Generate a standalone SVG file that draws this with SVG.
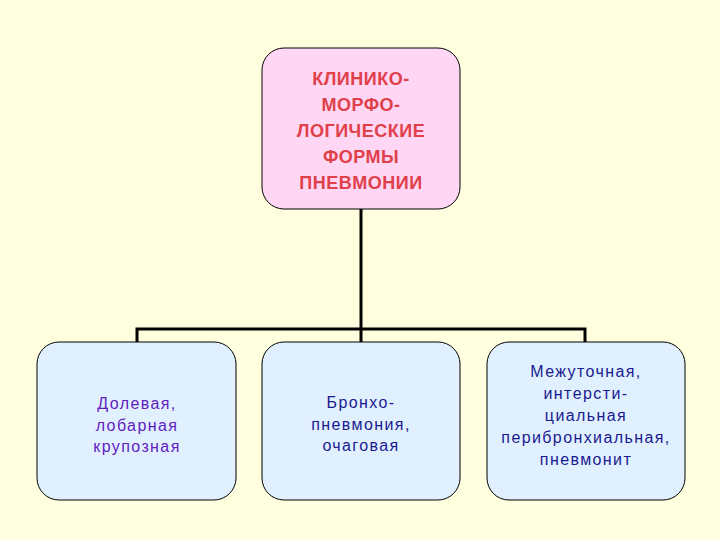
<svg xmlns="http://www.w3.org/2000/svg" width="720" height="540" viewBox="0 0 720 540">
<style>
.box{stroke:#000;stroke-width:1}
.t{font-family:"Liberation Sans",Arial,sans-serif;font-size:16px;letter-spacing:1.4px;text-anchor:middle}
.top{font-weight:bold;fill:#e0404a;font-size:18px;letter-spacing:0.5px}
.c{fill:none;stroke:#000;stroke-width:3}
</style>
<rect width="720" height="540" fill="#ffffe0"/>
<g id="connectors">
<path class="c" d="M361 209V329M137 342V329H585V342M361 329V342"/>
</g>
<g id="root">
<rect class="box" x="262" y="48" width="198" height="161" rx="22" fill="#ffd6f4"/>
<text class="t top" x="361" y="85">КЛИНИКО-</text>
<text class="t top" x="361" y="111">МОРФО-</text>
<text class="t top" x="361" y="137">ЛОГИЧЕСКИЕ</text>
<text class="t top" x="361" y="163">ФОРМЫ</text>
<text class="t top" x="361" y="189">ПНЕВМОНИИ</text>
</g>
<g id="n1">
<rect class="box" x="37" y="342" width="199" height="158" rx="22" fill="#e0f0ff"/>
<text class="t" fill="#6020c0" x="137" y="409">Долевая,</text>
<text class="t" fill="#6020c0" x="137" y="431">лобарная</text>
<text class="t" fill="#6020c0" x="137" y="452">крупозная</text>
</g>
<g id="n2">
<rect class="box" x="262" y="342" width="198" height="158" rx="22" fill="#e0f0ff"/>
<text class="t" fill="#1a1a90" x="361" y="408">Бронхо-</text>
<text class="t" fill="#1a1a90" x="361" y="430">пневмония,</text>
<text class="t" fill="#1a1a90" x="361" y="451">очаговая</text>
</g>
<g id="n3">
<rect class="box" x="487" y="342" width="198" height="158" rx="22" fill="#e0f0ff"/>
<text class="t" fill="#1a1a90" x="586" y="377">Межуточная,</text>
<text class="t" fill="#1a1a90" x="586" y="399">интерсти-</text>
<text class="t" fill="#1a1a90" x="586" y="421">циальная</text>
<text class="t" fill="#1a1a90" x="586" y="443">перибронхиальная,</text>
<text class="t" fill="#1a1a90" x="586" y="465">пневмонит</text>
</g>
</svg>
